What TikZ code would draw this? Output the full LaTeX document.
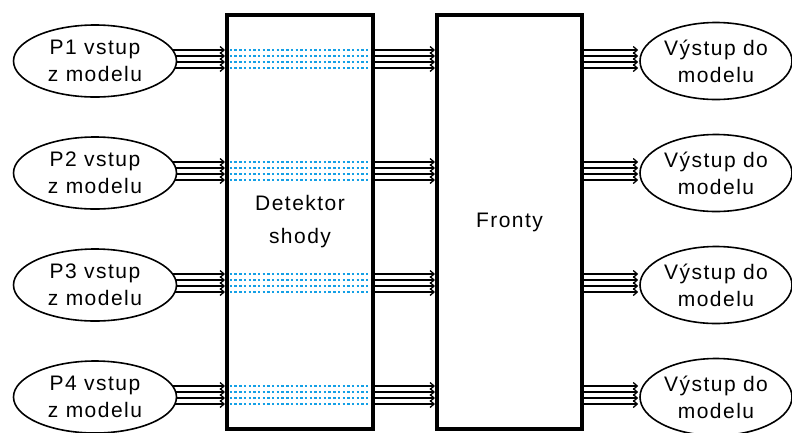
\documentclass[tikz,border=0pt]{standalone}
\usepackage{fontspec}
\setmainfont{Liberation Sans}[LetterSpace=7]
\usetikzlibrary{arrows.meta,backgrounds,shapes.geometric}
\begin{document}
\begin{tikzpicture}[x=1bp,y=-1bp,
  txt/.style={align=center,font=\fontsize{21bp}{27bp}\selectfont},
  inell/.style={txt,ellipse,draw,line width=1.6bp,fill=white,minimum width=163bp,minimum height=72bp,inner sep=0pt},
  outell/.style={txt,ellipse,draw,line width=1.6bp,fill=white,minimum width=152bp,minimum height=77bp,inner sep=0pt},
  bigbox/.style={draw,line width=4bp,inner sep=0pt,align=center,font=\fontsize{21bp}{33bp}\selectfont},
  flow/.style={line width=1.8bp,-{Straight Barb[length=4bp,width=7bp,line width=1.3bp]}},
  dots/.style={line width=2.4bp,draw={rgb,255:red,20;green,160;blue,230},dash pattern=on 2.4bp off 2.3bp}
]
\useasboundingbox (0,0) rectangle (792,432);
\node[bigbox,minimum width=146bp,minimum height=414bp] (det) at (300,222) {Detektor\\shody};
\node[bigbox,minimum width=145bp,minimum height=414bp] (fro) at (509.5,222) {Fronty};
\foreach \i/\y in {1/61,2/173,3/285,4/397}{
  \node[inell] (in\i) at (95,\y) {P\i\ vstup\\z modelu};
  \node[outell] (out\i) at (716,\y) {Výstup do\\modelu};
}
\begin{pgfonlayer}{background}
\foreach \i in {1,2,3,4}{
  \foreach \d in {-11,-5,1,7}{
    \draw[flow] ([shift={(-6,\d)}]in\i.east) -- ([shift={(0,\d)}]in\i.east -| det.west);
    \draw[dots] ([shift={(0,\d)}]in\i.east -| det.west) -- ([shift={(0,\d)}]in\i.east -| det.east);
    \draw[flow] ([shift={(0,\d)}]in\i.east -| det.east) -- ([shift={(0,\d)}]in\i.east -| fro.west);
    \draw[flow] ([shift={(0,\d)}]in\i.east -| fro.east) -- ([shift={(-1,\d)}]in\i.east -| out\i.west);
  }
}
\end{pgfonlayer}
\end{tikzpicture}
\end{document}
